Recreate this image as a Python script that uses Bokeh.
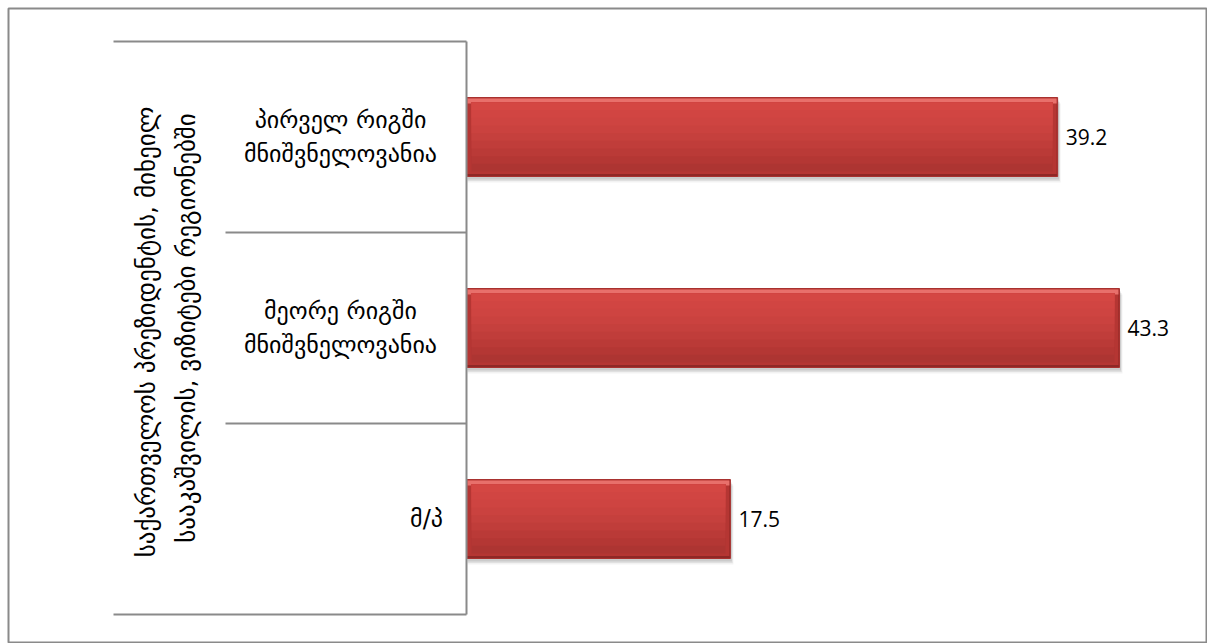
import math
from bokeh.plotting import figure
from bokeh.models import Range1d, ColumnDataSource
from bokeh.core.properties import value
from bokeh.embed import file_html
from bokeh.resources import INLINE

# ---- data ----
categories = ["პირველ რიგში\nმნიშვნელოვანია", "მეორე რიგში\nმნიშვნელოვანია", "მ/პ"]
values = [39.2, 43.3, 17.5]
group_label = "საქართველოს პრეზიდენტის,  მიხეილ\nსააკაშვილის, ვიზიტები რეგიონებში"
value_labels = ["39.2", "43.3", "17.5"]

# ---- layout (pixels) ----
MARGIN = 8
W, H = 1199, 635       # frame size
AXIS_PX = 458          # distance of the value axis from the frame left edge
PX_PER_UNIT = 15.08
BAND_PX = 191.0
TOP_PX = 33.0          # first band top from the frame top

x_start = -AXIS_PX / PX_PER_UNIT
x_end = (W - AXIS_PX) / PX_PER_UNIT
y_top = -0.5 - TOP_PX / BAND_PX
y_bottom = y_top + H / BAND_PX

def px(d):
    return d / PX_PER_UNIT

def py(d):
    return d / BAND_PX

p = figure(width=W + MARGIN, height=H + MARGIN, output_backend="svg", toolbar_location=None,
           x_range=Range1d(x_start, x_end), y_range=Range1d(y_bottom, y_top),
           min_border=0, min_border_left=MARGIN, min_border_right=0,
           min_border_top=MARGIN, min_border_bottom=0)
p.axis.visible = False
p.grid.visible = False
p.outline_line_color = "#8a8a8a"
p.outline_line_width = 2
p.background_fill_color = "white"
p.border_fill_color = "white"

n = len(categories)
ys = list(range(n))
bar_h = py(79.0)

src = ColumnDataSource(dict(y=ys, v=values, lab=value_labels, cat=categories))

# soft shadow
for off, a in [(6, 0.05), (4.5, 0.07), (3, 0.09)]:
    p.hbar(y=[y + py(off) for y in ys], left=px(1), right=[v + px(off / 2) for v in values],
           height=bar_h, fill_color="#000000", fill_alpha=a, line_color=None)
# base (dark bevel / bottom edge)
p.hbar(y="y", left=0, right="v", height=bar_h, source=src,
       fill_color="#8f2826", line_color="#a8312f", line_width=1)
# right/left bevel lighter
p.hbar(y=[y - py(1) for y in ys], left=0, right=[v - px(1) for v in values],
       height=bar_h - py(3), fill_color="#b53633", line_color=None)
# top light bevel
p.hbar(y=[y - bar_h / 2 + py(3.5) for y in ys], left=px(1), right=[v - px(1) for v in values],
       height=py(5), fill_color="#e8706b", line_color=None)

# inner vertical gradient (overlapping layers, darkest first)
inset = 5.0
inner_top = -bar_h / 2 + py(inset)
inner_h = bar_h - py(2 * inset)
steps = ["#ad3532", "#b43734", "#ba3a37", "#c03d3a", "#c5403d", "#ca423f", "#ce4441", "#d14542", "#d44743"]
for k, col in enumerate(steps):
    frac = 1.0 - k / len(steps)
    p.quad(left=[px(inset)] * n, right=[v - px(inset) for v in values],
           top=[y + inner_top for y in ys],
           bottom=[y + inner_top + inner_h * frac for y in ys],
           fill_color=col, line_color=None)

# value labels
p.text(x=[v + px(8) for v in values], y=ys, text=value_labels,
       text_font=value("Open Sans"), text_font_size="21px", text_color="#000000",
       text_align="left", text_baseline="middle")

# category axis (drawn as lines and texts)
line_col = "#8a8a8a"
p.segment(x0=[0], y0=[-0.5], x1=[0], y1=[n - 0.5], line_color=line_col, line_width=2)
outer_left = px(113 - 466)
inner_left = px(225 - 466)
bounds = [i - 0.5 for i in range(n + 1)]
x0s = [outer_left if (b == bounds[0] or b == bounds[-1]) else inner_left for b in bounds]
p.segment(x0=x0s, y0=bounds, x1=[0] * len(bounds), y1=bounds,
          line_color=line_col, line_width=2)

cat_x = [px(340 - 466), px(340 - 466), px(426 - 466)]
p.text(x=cat_x, y=ys, text=categories, text_font=value("DejaVu Sans"),
       text_font_size="24px", text_color="#000000", text_align="center",
       text_baseline="middle", text_line_height=1.2)

p.text(x=[px(166 - 466)], y=[(n - 1) / 2], text=[group_label],
       text_font=value("DejaVu Sans"), text_font_size="25px", text_color="#000000",
       text_align="center", text_baseline="middle", angle=math.pi / 2,
       text_line_height=1.4)

open("out.html", "w").write(file_html(p, INLINE))
